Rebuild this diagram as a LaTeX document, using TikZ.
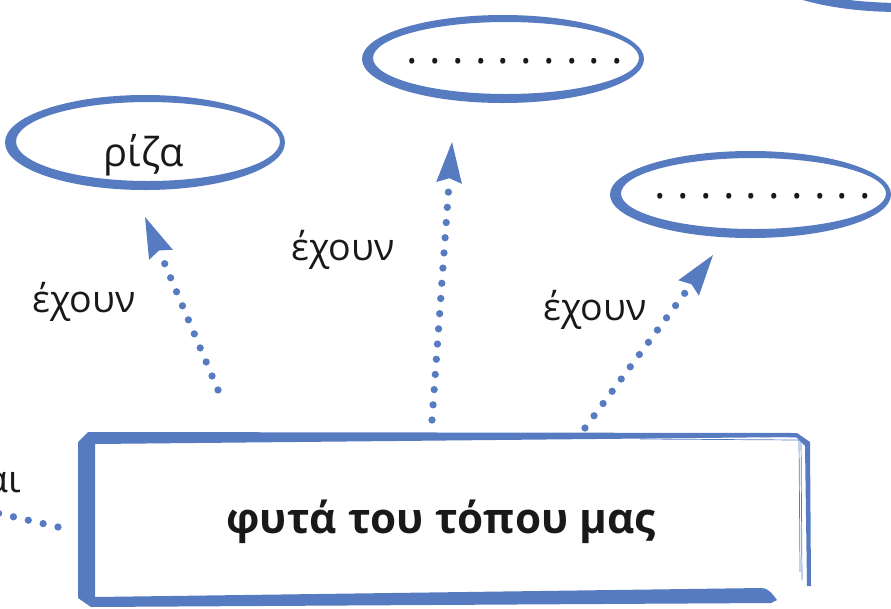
\documentclass[tikz,border=0pt]{standalone}
\usepackage{fontspec}
\setmainfont{Open Sans}
\usetikzlibrary{arrows.meta,calc,shapes.geometric}
\definecolor{myblue}{RGB}{87,123,192}
\newcommand*{\mytextstyle}{\fontsize{32}{38}\selectfont\color{black!90}}
\newcommand*{\myrizastyle}{\fontsize{34}{40}\selectfont\color{black!90}}
\newcommand*{\mydotstyle}{\fontsize{37}{44}\selectfont\frenchspacing\color{black!90}}
\newcommand*{\mytitlestyle}{\fontsize{36}{43}\selectfont\bfseries\color{black!90}}
\newcommand{\brushring}[5]{%
   % node, x offset, y offset, x radius, y radius (in pixels);
   % the inner ellipse is moved right and up, so the stroke
   % is thick on the left and at the bottom
   \pgfmathsetmacro{\rx}{#4*0.03}
   \pgfmathsetmacro{\ry}{#5*0.03}
   \pgfmathsetmacro{\rxin}{(#4-8)*0.03}
   \pgfmathsetmacro{\ryin}{(#5-8)*0.03}
   \fill[myblue, even odd rule]
      ($(#1.center)+(#2,#3)$) ellipse [x radius=\rx cm, y radius=\ry cm]
      ($(#1.center)+(#2+3,#3-1)$) ellipse [x radius=\rxin cm, y radius=\ryin cm];
}

\begin{document}
\begin{tikzpicture}[
   x = 0.03cm, y = -0.03cm,
   dotline/.style  = {myblue, line width=6.2pt, line cap=round,
                      dash pattern=on 0pt off 13pt},
   dotarrow/.style = {dotline,
                      -{Stealth[length=35pt, width=22pt, inset=4pt, line width=0pt]}},
   bubble/.style   = {ellipse, inner sep=0pt, outer sep=0pt}
]
   \useasboundingbox (0,0) rectangle (891,608);

   % bubbles
   \node[bubble, minimum width=8.4cm, minimum height=2.85cm,
         font=\myrizastyle] (riza) at (144,155) {ρίζα};
   \node[bubble, minimum width=8.46cm, minimum height=2.64cm,
         font=\mydotstyle] (top) at (515,61) {. . . . . . . . . .};
   \node[bubble, minimum width=8.43cm, minimum height=2.61cm,
         font=\mydotstyle] (right) at (763,196) {. . . . . . . . . .};
   \node[bubble, minimum width=8.4cm, minimum height=2.58cm] (corner) at (900,-31) {};
   \brushring{riza}{1}{-12.5}{140}{47.5}
   \brushring{top}{-12}{-2}{141}{44}
   \brushring{right}{-12.5}{-1.5}{140.5}{43.5}
   \brushring{corner}{0}{0}{140}{43}

   % main box
   \node at (441,522) [
      minimum width  = 21.96cm,
      minimum height = 5.25cm,
      inner sep = 0pt,
      outer sep = 0pt,
      font = \mytitlestyle
   ] (box) {φυτά του τόπου μας};
   \fill[myblue] (88,432) -- (797,433) -- (810,442) -- (811,586) -- (807,586)
      -- (805,446) -- (796,437) -- (95,444) -- (95,597)
      -- (762,588) .. controls (770,589) and (773,595) .. (777,600)
      -- (771,603) -- (91,607) -- (78,598) -- (78,442) -- cycle;
   \draw[myblue, line width=0.6pt] (690,436) -- (801,437) -- (802,580);
   \draw[myblue, line width=0.6pt] (640,439) -- (799,440) -- (800,572);

   % labels
   \node[font=\mytextstyle] (has1) at (84,302) {έχουν};
   \node[font=\mytextstyle] (has2) at (343,250) {έχουν};
   \node[font=\mytextstyle] (has3) at (595,310) {έχουν};
   \node[font=\mytextstyle, anchor=base east, inner sep=0pt] (isare) at (21,492) {αι};

   % connectors
   \coordinate (lefttip) at (-60,500);
   \draw[dotarrow] ($(box.north west)+(143,-44.5)$) -- ($(riza.south)+(1,14.5)$);
   \draw[dotarrow] ($(box.north west)+(357,-14.5)$) -- ($(top.south)+(-63,37)$);
   \draw[dotarrow] ($(box.north west)+(510,-6.5)$) -- ($(right.south)+(-50,15.5)$);
   \draw[dotline]  ($(box.west)+(-17,5)$) -- (lefttip);
\end{tikzpicture}
\end{document}
